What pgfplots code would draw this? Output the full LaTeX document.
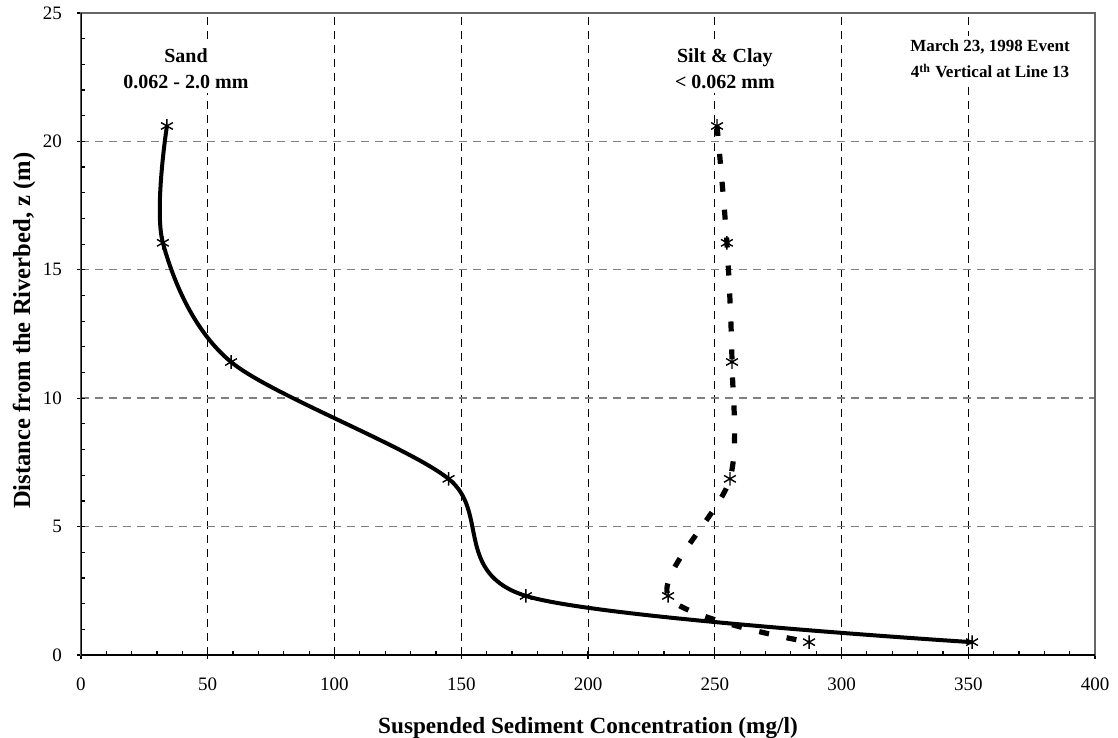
\documentclass[border=0pt]{standalone}
\usepackage{fontspec}
\setmainfont{Liberation Serif}
\usepackage{pgfplots}
\pgfplotsset{compat=1.18}
\tikzset{ann/.style={fill=white, align=center, inner sep=2pt, font=\fontsize{10}{13}\selectfont\bfseries}}

\begin{document}
\begin{tikzpicture}
\path[use as bounding box] (-40.5pt,-41.5pt) rectangle (518.5pt,327.5pt);
\begin{axis}[
  scale only axis, width=507pt, height=321pt,
  xmin=0, xmax=400, ymin=0, ymax=25,
  xtick={0,50,...,400}, ytick={0,5,...,25},
  minor x tick num=4, minor y tick num=4,
  xtick pos=bottom, ytick pos=left,
  tick align=center, major tick length=4pt, minor tick length=2pt,
  minor x tick style={yshift=1pt}, minor y tick style={xshift=1pt},
  tick style={black, line width=0.6pt},
  axis line style={gray!80!black, line width=0.8pt},
  grid=major,
  x grid style={black, line width=0.5pt, dash pattern=on 4pt off 3pt},
  y grid style={gray, line width=0.7pt, dash pattern=on 4pt off 3pt},
  /pgf/number format/assume math mode=true,
  tick label style={font=\fontsize{9.5}{11}\selectfont},
  xticklabel style={yshift=-6pt},
  yticklabel style={xshift=-4pt},
  xlabel={\bfseries Suspended Sediment Concentration (mg/l)},
  ylabel={\bfseries Distance from the Riverbed, z (m)},
  every axis x label/.style={at={(axis description cs:0.5,-0.1215)}, anchor=base,
    font=\fontsize{11.6}{14}\selectfont},
  every axis y label/.style={at={(axis description cs:-0.0562,0.505)}, anchor=center, rotate=90,
    font=\fontsize{12.3}{15}\selectfont},
]
\draw[black, line width=0.8pt] (axis cs:0,25) -- (axis cs:0,0) -- (axis cs:400,0);

% sand
\addplot[black, line width=2pt, smooth, mark=asterisk, mark size=3.4pt,
  mark options={solid, line width=0.7pt}] coordinates {
  (33.9,20.6) (32.3,16.05) (59.2,11.41) (145,6.86) (175.5,2.3) (351.5,0.5)
};
% silt & clay
\addplot[black, line width=2.6pt, smooth, dash pattern=on 5pt off 9pt, mark=asterisk, mark size=3.4pt,
  mark options={solid, line width=0.7pt}] coordinates {
  (250.9,20.6) (254.8,16.05) (256.8,11.41) (256,6.86) (231.6,2.3) (287.2,0.5)
};

\node[ann] at (axis cs:41.4,22.83) {Sand\\0.062 - 2.0 mm};
\node[ann] at (axis cs:254,22.83) {Silt \& Clay\\{<} 0.062 mm};
\node[ann, font=\fontsize{8.5}{13}\selectfont\bfseries] at (axis cs:358.6,23.2) {March 23, 1998 Event\\4\textsuperscript{th} Vertical at Line 13};
\end{axis}
\end{tikzpicture}
\end{document}
